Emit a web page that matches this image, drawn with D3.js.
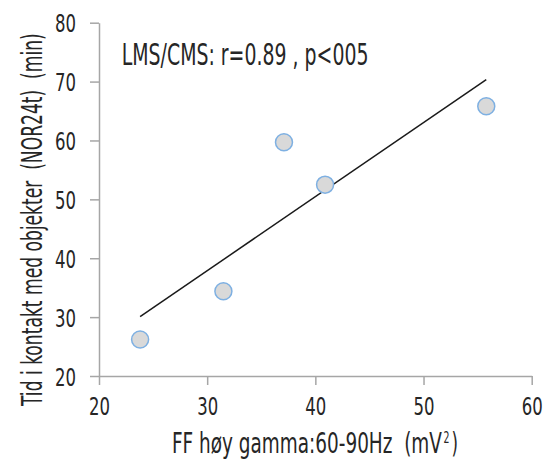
<!DOCTYPE html>
<html>
<head>
<meta charset="utf-8">
<script src="https://cdn.jsdelivr.net/npm/d3@7"></script>
<style>
  body { margin: 0; background: #fff; }
  svg text { font-family: "DejaVu Sans Condensed", "Liberation Sans Narrow", sans-serif; fill: #262626; white-space: pre; }
</style>
</head>
<body>
<script>
// values
var ffGamma = [23.8, 31.5, 37.1, 40.9, 55.8],
    contactTime = [26.2, 34.4, 59.7, 52.5, 65.8],
    xTicks = [20, 30, 40, 50, 60],
    yTicks = [20, 30, 40, 50, 60, 70, 80],
    xTitle = "FF høy gamma:60-90Hz  (mV",
    yTitle = "Tid i kontakt med objekter  (NOR24t)  (min)",
    note = "LMS/CMS: r=0.89 , p<005";

var W = 555, H = 467,
    margin = {top: 22.7, right: 23.3, bottom: 91, left: 99};

var svg = d3.select("body").append("svg").attr("width", W).attr("height", H);

var x = d3.scaleLinear().domain([20, 60]).range([margin.left, W - margin.right]),
    y = d3.scaleLinear().domain([20, 80]).range([H - margin.bottom, margin.top]);

var axisColor = "#a6a6a6";

// squeeze a text horizontally to a given width (the original font is very narrow)
function squeeze(t, pos, w, rot) {
  var len = t.node().getComputedTextLength();
  t.attr("transform", "translate(" + pos + ")" + (rot ? " rotate(" + rot + ")" : "") + " scale(" + (w / len) + ",1)");
  return t;
}

// x axis
var gx = svg.append("g")
    .attr("transform", "translate(0," + y(20) + ")")
    .call(d3.axisBottom(x).tickValues(xTicks).tickSize(9).tickSizeOuter(0));
// y axis
var gy = svg.append("g")
    .attr("transform", "translate(" + x(20) + ",0)")
    .call(d3.axisLeft(y).tickValues(yTicks).tickSize(9).tickSizeOuter(0));

[gx, gy].forEach(function(g) {
  g.select(".domain").attr("stroke", axisColor).attr("stroke-width", 1.5);
  g.selectAll(".tick line").attr("stroke", axisColor).attr("stroke-width", 1.5);
  g.selectAll(".tick text")
      .attr("font-size", 25).attr("font-family", null).attr("fill", null)
      .attr("x", 0).attr("y", 0);
});
gx.selectAll(".tick text").attr("dy", 0).each(function(d) {
  squeeze(d3.select(this), "0,39", String(d).length * 10.5);
});
gy.selectAll(".tick text").attr("dy", "0.36em").each(function(d) {
  squeeze(d3.select(this), "-23,0", String(d).length * 10.5);
});

// linear regression line over the data range
var mx = d3.mean(ffGamma), my = d3.mean(contactTime);
var sxy = d3.sum(ffGamma, function(d, i) { return (d - mx) * (contactTime[i] - my); }),
    sxx = d3.sum(ffGamma, function(d) { return (d - mx) * (d - mx); });
var slope = sxy / sxx, icpt = my - slope * mx;
var x0 = d3.min(ffGamma), x1 = d3.max(ffGamma);

svg.append("line")
    .attr("x1", x(x0)).attr("y1", y(icpt + slope * x0))
    .attr("x2", x(x1)).attr("y2", y(icpt + slope * x1))
    .attr("stroke", "#1a1a1a").attr("stroke-width", 1.5);

svg.selectAll("circle.pt")
  .data(ffGamma)
  .enter().append("circle")
    .attr("class", "pt")
    .attr("cx", function(d) { return x(d); })
    .attr("cy", function(d, i) { return y(contactTime[i]); })
    .attr("r", 8.5)
    .attr("fill", "#d9d9d9")
    .attr("stroke", "#7eb0e2")
    .attr("stroke-width", 1.5);

// annotation
squeeze(svg.append("text").attr("font-size", 30).text(note), "121.7,65", 247);

// x title, superscript and closing bracket as separate pieces
squeeze(svg.append("text").attr("font-size", 27.5).text(xTitle), "172,453", 270);
squeeze(svg.append("text").attr("font-size", 15).text("2"), "443.5,443", 6);
squeeze(svg.append("text").attr("font-size", 27.5).text(")"), "451.5,453", 6.5);

// y title
squeeze(svg.append("text").attr("font-size", 29).text(yTitle), "41.7,406", 373, -90);
</script>
</body>
</html>
